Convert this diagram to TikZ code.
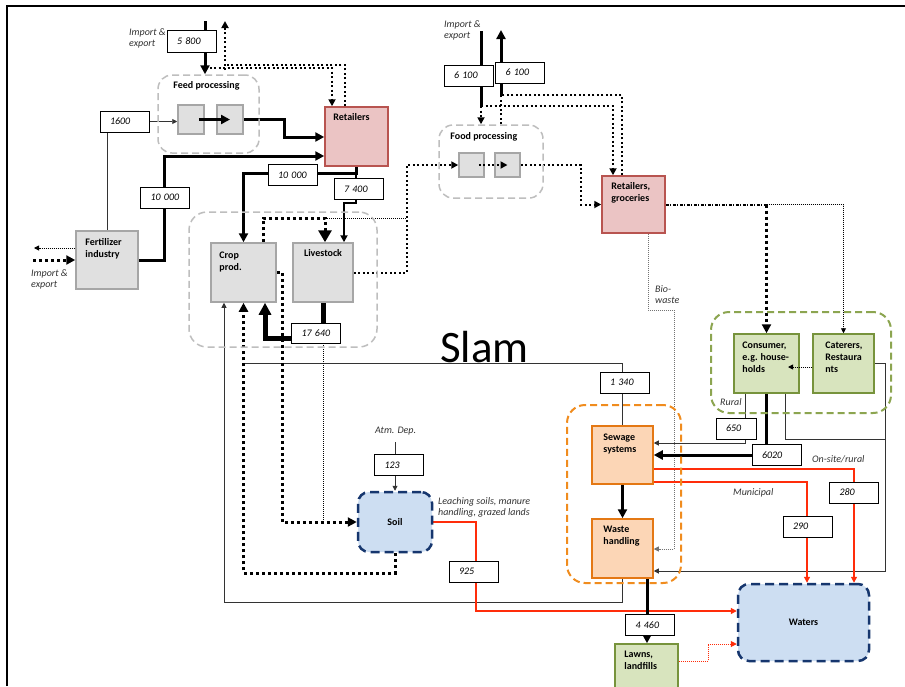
\documentclass[tikz,border=0pt]{standalone}
\usepackage{fontspec}
\setmainfont{Carlito}
\usetikzlibrary{arrows.meta,backgrounds}
\definecolor{gfill}{RGB}{224,224,224}
\definecolor{gdraw}{RGB}{166,166,166}
\definecolor{rfill}{RGB}{235,196,196}
\definecolor{rdraw}{RGB}{184,84,80}
\definecolor{grfill}{RGB}{216,228,190}
\definecolor{grdraw}{RGB}{119,147,60}
\definecolor{gcont}{RGB}{140,165,80}
\definecolor{ofill}{RGB}{252,214,182}
\definecolor{odraw}{RGB}{228,120,20}
\definecolor{ocont}{RGB}{240,140,30}
\definecolor{bfill}{RGB}{205,222,242}
\definecolor{bdraw}{RGB}{22,54,110}
\definecolor{cgray}{RGB}{190,190,190}
\definecolor{redl}{RGB}{255,45,10}
\tikzset{
  gbox/.style={draw=gdraw, fill=gfill, line width=1.5pt, inner sep=0pt},
  rbox/.style={draw=rdraw, fill=rfill, line width=1.5pt, inner sep=0pt},
  grbox/.style={draw=grdraw, fill=grfill, line width=1.5pt, inner sep=0pt},
  obox/.style={draw=odraw, fill=ofill, line width=1.5pt, inner sep=0pt},
  bluebox/.style={draw=bdraw, fill=bfill, line width=2.5pt, dash pattern=on 9pt off 5pt, rounded corners=11pt, inner sep=0pt, font=\bfseries\fontsize{10}{12}\selectfont},
  cont/.style={draw=cgray, line width=1.5pt, dash pattern=on 7pt off 4pt, rounded corners=14pt, inner sep=0pt},
  numbox/.style={draw, fill=white, line width=0.9pt, minimum height=21pt, text width=29pt, inner xsep=10pt, inner ysep=0pt, align=left, font=\itshape\fontsize{10}{12}\selectfont},
  tl/.style={anchor=north west, xshift=9pt, yshift=-7pt, inner sep=0pt, align=left, font=\bfseries\fontsize{10}{12}\selectfont},
  tc/.style={anchor=north, yshift=-7pt, inner sep=0pt, font=\bfseries\fontsize{10}{12}\selectfont},
  lbl/.style={inner sep=0pt, align=left, font=\itshape\fontsize{10}{11.5}\selectfont, text=black!80},
  thk/.style={line width=3pt},
  vthk/.style={line width=5pt},
  medl/.style={line width=2pt},
  thinl/.style={line width=0.9pt, draw=black!80},
  dthk/.style={line width=3pt, dash pattern=on 3pt off 3pt},
  dmed/.style={line width=2pt, dash pattern=on 2pt off 2.5pt},
  dthin/.style={line width=0.9pt, dash pattern=on 1pt off 1pt},
  dashdotl/.style={line width=2pt, dash pattern=on 3pt off 1.5pt on 1pt off 1.5pt},
  biow/.style={line width=0.8pt, draw=black!55, dash pattern=on 1pt off 1pt},
  redline/.style={line width=1.2pt, draw=redl},
  reddot/.style={line width=1pt, draw=redl, dash pattern=on 1pt off 1pt},
  athk/.style={-{Triangle[length=9pt,width=9pt]}},
  amed/.style={-{Triangle[length=7pt,width=7pt]}},
  athin/.style={-{Triangle[length=5pt,width=5pt]}},
  ared/.style={-{Triangle[length=6pt,width=6pt]}},
  abig/.style={-{Triangle[length=12pt,width=13pt]}},
}
\begin{document}
\begin{tikzpicture}[x=1pt,y=-1pt]
\useasboundingbox (0,0) rectangle (905,686);
\begin{pgfonlayer}{background}
\fill[white] (0,0) rectangle (905,686);
\end{pgfonlayer}
\draw[line width=1.5pt] (7,686) -- (7,6) -- (905,6);

% containers
\node[cont, minimum width=101pt, minimum height=78pt, label={[tc, xshift=-2pt]north:Feed processing}] (feedc) at (208.5,114) {};
\node[cont, minimum width=104pt, minimum height=73pt, label={[tl, xshift=3pt, yshift=-1pt]north west:Food processing}] (foodc) at (491,161.5) {};
\node[cont, minimum width=188pt, minimum height=135pt, rounded corners=18pt] (cropc) at (283,279.5) {};
\node[cont, draw=ocont, line width=2pt, minimum width=114pt, minimum height=178pt, rounded corners=18pt] (sewc) at (624,494) {};
\node[cont, draw=gcont, line width=2pt, minimum width=180pt, minimum height=101pt, rounded corners=18pt] (consc) at (801,362.5) {};

% boxes
\node[gbox, minimum width=26pt, minimum height=29pt] (fp1) at (191,119.5) {};
\node[gbox, minimum width=26pt, minimum height=29pt] (fp2) at (230,119.5) {};
\node[rbox, minimum width=63pt, minimum height=59pt, label={[tl]north west:Retailers}] (ret) at (356.5,136.5) {};
\node[gbox, minimum width=62pt, minimum height=58pt, label={[tl, xshift=1pt, yshift=-1pt]north west:Fertilizer\\industry}] (fert) at (107,260) {};
\node[gbox, minimum width=65pt, minimum height=59pt, label={[tl, yshift=-2pt]north west:Crop\\prod.}] (crop) at (243.5,272.5) {};
\node[gbox, minimum width=60pt, minimum height=59pt, label={[tc]north:Livestock}] (live) at (323,272.5) {};
\node[gbox, minimum width=25pt, minimum height=24pt] (fd1) at (471.5,165) {};
\node[gbox, minimum width=25pt, minimum height=24pt] (fd2) at (507.5,165) {};
\node[rbox, minimum width=63pt, minimum height=57pt, label={[tl, xshift=1pt]north west:Retailers,\\groceries}] (retg) at (633.5,204.5) {};
\node[grbox, minimum width=65pt, minimum height=59pt, label={[tl, yshift=-1pt]north west:Consumer,\\e.g. house-\\holds}] (cons) at (766.5,363.5) {};
\node[grbox, minimum width=61pt, minimum height=59pt, label={[tl, xshift=4pt, yshift=-1pt]north west:Caterers,\\Restaura\\nts}] (cat) at (843.5,363.5) {};
\node[obox, minimum width=61pt, minimum height=58pt, label={[tl, xshift=3pt, yshift=-1pt]north west:Sewage\\systems}] (sew) at (622.5,455) {};
\node[obox, minimum width=61pt, minimum height=59pt, label={[tl, xshift=3pt, yshift=-1pt]north west:Waste\\handling}] (waste) at (622.5,548.5) {};
\node[grbox, minimum width=63pt, minimum height=56pt, label={[tl, xshift=1pt, yshift=-1pt]north west:Lawns,\\landfills}] (lawns) at (646.5,672) {};
\node[bluebox, minimum width=74pt, minimum height=60pt] (soil) at (395,522) {Soil};
\node[bluebox, minimum width=131pt, minimum height=77pt] (waters) at (803.5,622.5) {Waters};

% number boxes
\node[numbox, minimum height=22pt] (n5800) at (191.5,41) {5 800};
\node[numbox] (n1600) at (124.5,121.5) {1600};
\node[numbox] (n10a) at (165,197.5) {10 000};
\node[numbox] (n10b) at (292.5,175) {10 000};
\node[numbox] (n7400) at (358.5,189) {7 400};
\node[numbox, minimum height=20pt] (n17640) at (316,333) {17 640};
\node[numbox] (n6100a) at (468.5,75.5) {6 100};
\node[numbox] (n6100b) at (520,72.5) {6 100};
\node[numbox] (n1340) at (624.5,382.5) {1 340};
\node[numbox, text width=20pt, inner xsep=10pt] (n650) at (736,428.5) {650};
\node[numbox] (n6020) at (776.5,455) {6020};
\node[numbox] (n280) at (854,492.5) {280};
\node[numbox] (n290) at (807.5,526.5) {290};
\node[numbox] (n4460) at (650,625) {4 460};
\node[numbox] (n123) at (399,465) {123};
\node[numbox] (n925) at (473.5,571.5) {925};

% texts
\node[lbl, anchor=north west] (t1) at (129,28) {Import \&\\export};
\node[lbl, anchor=north west] (t2) at (444,20) {Import \&\\export};
\node[lbl, anchor=north west] (t3) at (31,269) {Import \&\\export};
\node[lbl, anchor=north west] (t4) at (655,285) {Bio-\\waste};
\node[lbl, anchor=west] (t5) at (720,402) {Rural};
\node[lbl, anchor=west] (t6) at (812,459) {On-site/rural};
\node[lbl, anchor=west] (t7) at (733,493) {Municipal};
\node[lbl, anchor=west] (t8) at (375,431) {Atm. Dep.};
\node[lbl, anchor=north west] (t9) at (438,497) {Leaching soils, manure\\handling, grazed lands};
\node[font=\fontsize{45}{50}\selectfont, anchor=base, inner sep=0pt] (slam) at (484.5,362) {Slam};

% connectors on top of boxes
\draw[thk, athk] ([xshift=-6pt]fp1.east) -- (fp2.center);
\draw[dmed, amed] ([xshift=-6pt]fd1.east) -- (fd2.center);
\draw[dthin, athin] (cat.west |- 0,367) -- (788,367);

\begin{pgfonlayer}{background}
% feed import/export
\draw[thk] (205,21) -- (205,0 |- n5800.north);
\draw[thk, athk] (205,0 |- n5800.south) -- (205,0 |- feedc.north);
\draw[dmed, amed] (205,68) -- (332,68) -- (332,0 |- ret.north);
\draw[dmed] (345,0 |- ret.north) -- (345,65) -- (225,65);
\draw[dmed, amed] (225,70) -- (225,21);
% 1600
\draw[thinl, athin] (n1600.east) -- (fp1.west |- n1600.east);
\draw[thinl] (107,0 |- n1600.south) -- (107,0 |- fert.north);
% feed -> retailers
\draw[thk, athk] (fp2.east) -- (284,119.5) -- (284,137) -- (ret.west |- 0,137);
% fertilizer -> retailers
\draw[thk, athk] (fert.east) -- (164,260) -- (164,156) -- (ret.west |- 0,156);
% retailers -> crop / livestock
\draw[thk, athk] (356,0 |- ret.south) -- (356,173) -- (243.5,173) -- (crop.north);
\draw[medl, amed] (356,0 |- ret.south) -- (356,203) -- (344,203) -- (344,0 |- live.north);
% crop -> livestock (feed)
\draw[dthk, abig] (263,0 |- crop.north) -- (263,218) -- (325,218) -- (325,0 |- live.north);
\draw[dthin] (325,218) -- (407,218);
% livestock -> food processing
\draw[dmed, amed] (live.east) -- (407,272.5) -- (407,165) -- (fd1.west);
% food -> retailers groceries
\draw[dmed, amed] (fd2.east) -- (581,165) -- (581,204.5) -- (retg.west);
% 6100 import
\draw[thk] (481,31) -- (481,0 |- n6100a.north);
\draw[thk] (481,0 |- n6100a.south) -- (481,106);
\draw[dmed, amed] (481,106) -- (481,0 |- foodc.north);
\draw[dmed, amed] (481,106) -- (613,106) -- (613,0 |- retg.north);
% 6100 export
\draw[dmed] (501,0 |- foodc.north) -- (501,95);
\draw[dmed] (622,0 |- retg.north) -- (622,95) -- (501,95);
\draw[thk] (501,95) -- (501,0 |- n6100b.south);
\draw[thk, athk] (501,0 |- n6100b.north) -- (501,30);
% retailers groceries -> consumers
\coordinate (rc) at (cons.north |- retg.east);
\draw[dashdotl] (retg.east) -- (rc);
\draw[dthk, athk] (rc) -- (cons.north);
\draw[dthin, athin] (rc) -- (cat.north |- retg.east) -- (cat.north);
% bio-waste
\draw[biow, athin] (648,0 |- retg.south) -- (648,310) -- (674,310) -- (674,549) -- (waste.east |- 0,549);
% caterers -> waste handling
\draw[thinl, athin] (cat.east |- 0,363) -- (885,363) -- (885,571) -- (waste.east |- 0,571);
% consumers -> sewage
\draw[thinl] (745,0 |- cons.south) -- (745,0 |- n650.north);
\draw[thinl, athin] (745,0 |- n650.south) -- (745,443) -- (sew.east |- 0,443);
\draw[thk] (cons.south) -- (cons.south |- n6020.north);
\draw[thk, athk] (n6020.west) -- (sew.east);
\draw[thinl] (785,0 |- cons.south) -- (785,439) -- (885,439);
% sewage -> crop (1 340)
\draw[thinl] (sew.north) -- (622.5,363) -- (243.5,363);
% soil -> crop
\draw[dthk, athk] (soil.south) -- (395,573) -- (243.5,573) -- (crop.south);
% waste -> crop
\draw[thinl, athin] (waste.south) -- (622.5,602) -- (224,602) -- (224,0 |- crop.south);
% livestock -> crop (17 640)
\draw[vthk] (323,0 |- live.south) -- (323,0 |- n17640.north);
\draw[vthk, -{Triangle[length=12pt,width=12pt]}] (n17640.west |- 0,338) -- (265,338) -- (265,0 |- crop.south);
% crop -> soil
\draw[dthk, athk] (crop.east |- 0,272) -- (282,272) -- (282,522) -- (soil.west);
\draw[dthin] (323,0 |- n17640.south) -- (323,522);
% atmospheric deposition
\draw[thinl] (395,442) -- (395,0 |- n123.north);
\draw[thinl, athin] (395,0 |- n123.south) -- (soil.north);
% soil -> waters
\draw[redline, ared] (soil.east) -- (476,522) -- (476,611) -- (waters.west |- 0,611);
% sewage -> waters
\draw[redline, ared] (sew.east |- 0,469) -- (854,469) -- (854,0 |- waters.north);
\draw[redline, ared] (sew.east |- 0,482) -- (807,482) -- (807,0 |- waters.north);
% sewage -> waste, waste -> lawns
\draw[thk, athk] (sew.south) -- (waste.north);
\draw[thk, athk] (647,0 |- waste.south) -- (647,0 |- lawns.north);
% lawns -> waters
\draw[reddot, ared] (lawns.east |- 0,661) -- (708,661) -- (708,644) -- (waters.west |- 0,644);
% fertilizer import/export
\draw[dthin, athin] (fert.west |- 0,248) -- (34,248);
\draw[dthk, athk] (33,260) -- (fert.west);
\end{pgfonlayer}
\end{tikzpicture}
\end{document}
